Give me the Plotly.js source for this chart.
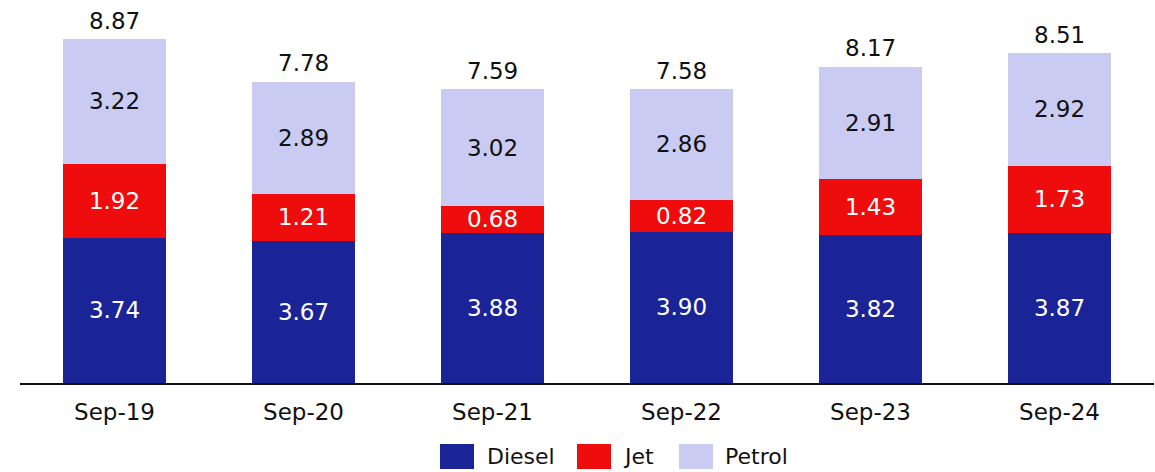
<!DOCTYPE html>
<html><head><meta charset="utf-8">
<script src="https://cdn.plot.ly/plotly-3.0.1.min.js"></script>
<style>html,body{margin:0;padding:0;background:#fff}#c{width:1155px;height:472px}</style>
</head><body><div id="c"></div>
<script>
const categories = ['Sep-19','Sep-20','Sep-21','Sep-22','Sep-23','Sep-24'];
const diesel = [3.74, 3.67, 3.88, 3.90, 3.82, 3.87];
const jet = [1.92, 1.21, 0.68, 0.82, 1.43, 1.73];
const petrol = [3.22, 2.89, 3.02, 2.86, 2.91, 2.92];
const totals = [8.87, 7.78, 7.59, 7.58, 8.17, 8.51];
const seriesNames = ['Diesel', 'Jet', 'Petrol'];
const seriesColors = ['#1b2496', '#ee0c0c', '#c9cbf3'];

const F = '"DejaVu Sans", sans-serif';
const FS = 23;
const fmt = v => v.toFixed(2);
function bar(name, vals, color, tcolor){
  return {type:'bar', name, x:categories, y:vals, marker:{color, line:{width:0}},
    text: vals.map(fmt), textposition:'inside', insidetextanchor:'middle',
    textfont:{family:F, size:FS, color:tcolor}, hoverinfo:'skip', width:0.55, showlegend:false};
}
const data = [
  bar(seriesNames[0], diesel, seriesColors[0], '#ffffff'),
  bar(seriesNames[1], jet, seriesColors[1], '#ffffff'),
  bar(seriesNames[2], petrol, seriesColors[2], '#111111'),
];
// total labels
const annotations = categories.map((c,i)=>({x:c, y:totals[i], xref:'x', yref:'y', text:fmt(totals[i]),
  showarrow:false, yanchor:'bottom', yshift:3, font:{family:F, size:FS, color:'#111'}}));
// custom legend (paper coords)
const plotL = 20, plotW = 1134, plotB = 383, plotH = 373;
const px = x => (x - plotL) / plotW;
const py = y => (plotB - y) / plotH;
const legSq = [440, 577, 679];
const legTx = [485, 621, 723];
const shapes = [];
seriesNames.forEach((n,i)=>{
  shapes.push({type:'rect', xref:'paper', yref:'paper', x0:px(legSq[i]), x1:px(legSq[i]+34), y0:py(469), y1:py(444),
    fillcolor:seriesColors[i], line:{width:0}});
  annotations.push({xref:'paper', yref:'paper', x:px(legTx[i]), y:py(457), xanchor:'left', yanchor:'middle',
    text:n, showarrow:false, font:{family:F, size:22, color:'#111'}});
});
const layout = {
  width:1155, height:472, barmode:'stack',
  margin:{l:20, r:1, t:10, b:89, autoexpand:false},
  paper_bgcolor:'#fff', plot_bgcolor:'#fff',
  font:{family:F, size:FS, color:'#111'},
  uniformtext:{mode:'show', minsize:FS},
  xaxis:{showline:true, linecolor:'#111', linewidth:1.5, ticks:'', ticklen:0, ticklabelstandoff:8, tickfont:{family:F,size:FS,color:'#111'}, showgrid:false, automargin:false},
  yaxis:{range:[0, 9.618], visible:false, showgrid:false, zeroline:false, automargin:false},
  showlegend:false, annotations, shapes
};
Plotly.newPlot('c', data, layout, {displayModeBar:false, staticPlot:true});
</script></body></html>
